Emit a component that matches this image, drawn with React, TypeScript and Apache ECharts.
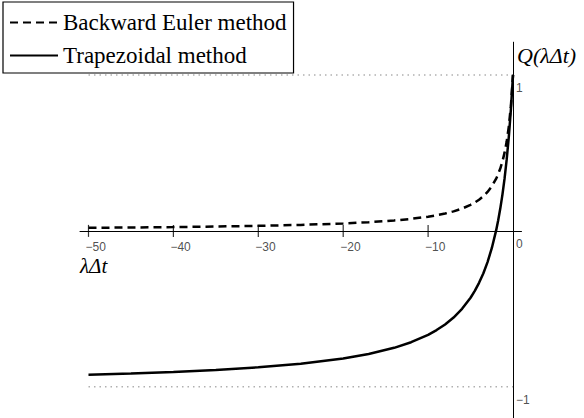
import React, { useEffect, useRef } from "react";
import * as echarts from "echarts";

const xValues = [-50, -45, -40, -35, -30, -25, -20, -17, -14, -12, -10, -9, -8, -7, -6, -5, -4.5, -4, -3.5, -3, -2.5, -2, -1.75, -1.5, -1.25, -1, -0.75, -0.5, -0.25, 0];
const backwardEuler = [0.0196, 0.0217, 0.0244, 0.0278, 0.0323, 0.0385, 0.0476, 0.0556, 0.0667, 0.0769, 0.0909, 0.1, 0.111, 0.125, 0.143, 0.167, 0.182, 0.2, 0.222, 0.25, 0.286, 0.333, 0.364, 0.4, 0.444, 0.5, 0.571, 0.667, 0.8, 1];
const trapezoidal = [-0.923, -0.915, -0.905, -0.892, -0.875, -0.852, -0.818, -0.789, -0.75, -0.714, -0.667, -0.636, -0.6, -0.556, -0.5, -0.429, -0.385, -0.333, -0.273, -0.2, -0.111, 0, 0.0667, 0.143, 0.231, 0.333, 0.455, 0.6, 0.778, 1];
const xTicks = [-50, -40, -30, -20, -10];
const yTicks = [1, 0, -1];
const guideX = [-50, 0];
const guideLevels = [1, -1];
const seriesNames = ["Backward Euler method", "Trapezoidal method"];

const fmt = (v: number) => String(v).replace("-", "−");

export default function App() {
  const ref = useRef<HTMLDivElement>(null);
  useEffect(() => {
    const chart = echarts.init(ref.current!, null, { renderer: "svg" });
    const guideSeries = guideLevels.map((lv) => ({
      type: "line",
      data: guideX.map((x) => [x, lv]),
      showSymbol: false,
      silent: true,
      lineStyle: { color: "#b0b0b0", width: 1.5, type: [1.5, 4] },
      z: 1,
    }));
    chart.setOption({
      animation: false,
      grid: { left: 80, right: 62.5, top: 42.2, bottom: 0, outerBoundsMode: "none", containLabel: false },
      legend: {
        data: seriesNames,
        orient: "vertical",
        left: 3,
        top: 2,
        padding: [9, 7, 6, 6],
        itemGap: 10,
        itemWidth: 48,
        itemHeight: 21,
        borderColor: "#000",
        borderWidth: 1.2,
        itemStyle: { opacity: 0 },
        textStyle: { fontFamily: "Liberation Serif", fontSize: 23, color: "#000", lineHeight: 21 },
      },
      xAxis: {
        type: "value",
        min: -51,
        max: 1,
        name: "λΔt",
        nameLocation: "start",
        nameGap: 0,
        nameTextStyle: {
          fontFamily: "Liberation Serif",
          fontStyle: "italic",
          fontSize: 21,
          color: "#000",
          align: "left",
          verticalAlign: "top",
          lineHeight: 21,
          padding: [25, 0, 0, 0],
        },
        axisLine: { onZero: true, lineStyle: { color: "#000", width: 1 } },
        axisTick: { show: false },
        splitLine: { show: false },
        axisLabel: { show: false },
      },
      yAxis: {
        type: "value",
        min: -1.2,
        max: 1.21,
        name: "Q(λΔt)",
        nameLocation: "end",
        nameGap: 0,
        nameTextStyle: {
          fontFamily: "Liberation Serif",
          fontStyle: "italic",
          fontSize: 22,
          color: "#000",
          align: "left",
          verticalAlign: "top",
          padding: [2, 0, 0, 4],
        },
        axisLine: { onZero: true, lineStyle: { color: "#000", width: 1 } },
        axisTick: { show: false },
        splitLine: { show: false },
        axisLabel: { show: false },
      },
      series: [
        ...guideSeries,
        {
          type: "scatter",
          data: xTicks.map((x) => [x, 0]),
          symbol: "rect",
          symbolSize: [1.2, 12],
          itemStyle: { color: "#000" },
          silent: true,
          z: 3,
          label: {
            show: true,
            position: "bottom",
            distance: 4,
            align: "left",
            offset: [-3, 0],
            lineHeight: 12,
            formatter: (p: any) => fmt(p.value[0]),
            fontFamily: "Liberation Sans",
            fontSize: 12,
            color: "#222",
          },
        },
        {
          type: "scatter",
          data: yTicks.map((y) => [0, y]),
          symbolSize: 0,
          itemStyle: { color: "#000" },
          silent: true,
          z: 3,
          label: {
            show: true,
            position: "right",
            distance: 3,
            verticalAlign: "top",
            offset: [0, 7],
            formatter: (p: any) => fmt(p.value[1]),
            fontFamily: "Liberation Sans",
            fontSize: 12,
            color: "#222",
          },
        },
        {
          name: seriesNames[0],
          type: "line",
          data: xValues.map((x, i) => [x, backwardEuler[i]]),
          showSymbol: false,
          symbol: "none",
          lineStyle: { color: "#000", width: 2.5, type: [8, 5] },
          itemStyle: { color: "#000" },
          z: 4,
        },
        {
          name: seriesNames[1],
          type: "line",
          data: xValues.map((x, i) => [x, trapezoidal[i]]),
          showSymbol: false,
          symbol: "none",
          lineStyle: { color: "#000", width: 2.5 },
          itemStyle: { color: "#000" },
          z: 4,
        },
      ],
    });
    return () => chart.dispose();
  }, []);
  return (
    <div
      ref={ref}
      style={{ position: "absolute", left: 0, top: 0, width: 584, height: 418, background: "#fff" }}
    />
  );
}
